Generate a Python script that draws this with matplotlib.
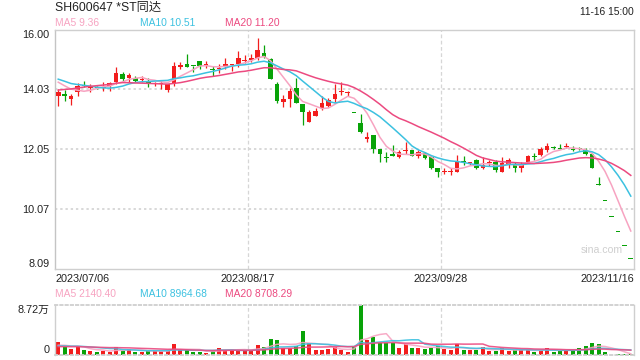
import matplotlib
matplotlib.use('Agg')
import matplotlib.pyplot as plt
import matplotlib.transforms as mtrans
import numpy as np
import pandas as pd

# ---------------- data ----------------
opens = [13.80, 13.86, 13.70, 13.93, 14.16, 14.08, 14.10, 14.08, 14.13, 14.26,
         14.53, 14.40, 14.40, 14.33, 14.26, 14.20, 14.20, 14.00, 14.20, 14.76,
         14.86, 14.80, 14.96, 14.80, 14.70, 14.70, 14.80, 14.83, 14.86, 14.96,
         15.00, 15.06, 15.23, 15.03, 14.20, 13.60, 13.70, 14.06, 13.53, 12.93,
         13.13, 13.40, 13.46, 13.70, 13.93, 13.90, 13.23, 12.91, 12.38, 12.51,
         12.04, 11.79, 11.88, 11.78, 11.98, 12.01, 11.81, 11.91, 11.78, 11.44,
         11.28, 11.28, 11.28, 11.64, 11.58, 11.68, 11.41, 11.58, 11.63, 11.28,
         11.51, 11.54, 11.44, 11.64, 11.81, 11.84, 12.01, 12.11, 12.08, 12.11,
         12.04, 12.08, 12.01, 11.88, 10.90, 10.33, 9.81, 9.32, 8.85, 8.41]
highs = [14.03, 14.00, 13.86, 14.23, 14.30, 14.20, 14.13, 14.26, 14.26, 14.76,
         14.60, 14.56, 14.46, 14.46, 14.40, 14.26, 14.30, 14.20, 14.93, 14.93,
         15.20, 14.80, 14.96, 14.96, 14.80, 14.86, 15.06, 14.86, 15.30, 15.16,
         15.20, 15.73, 15.50, 15.06, 14.26, 13.83, 14.06, 14.40, 13.53, 13.33,
         13.40, 13.80, 13.73, 14.20, 14.26, 13.96, 13.23, 13.20, 12.61, 12.51,
         12.04, 11.94, 12.18, 12.01, 12.28, 12.01, 12.01, 11.94, 11.81, 11.44,
         11.44, 11.41, 11.84, 11.81, 11.64, 11.71, 11.78, 11.68, 11.68, 11.78,
         11.74, 11.61, 11.61, 11.84, 11.91, 12.11, 12.24, 12.14, 12.21, 12.24,
         12.14, 12.11, 12.08, 11.91, 11.14, 10.33, 9.81, 9.32, 8.85, 8.41]
lows = [13.47, 13.63, 13.50, 13.80, 14.10, 13.93, 14.03, 13.96, 13.96, 14.20,
        14.30, 14.26, 14.26, 14.26, 14.10, 14.13, 14.03, 13.93, 14.13, 14.70,
        14.76, 14.60, 14.70, 14.73, 14.46, 14.56, 14.70, 14.63, 14.76, 14.90,
        14.93, 15.00, 15.06, 14.35, 13.56, 13.43, 13.43, 13.56, 12.86, 12.93,
        13.13, 13.33, 13.43, 13.56, 13.83, 13.80, 13.23, 12.58, 12.28, 11.91,
        11.64, 11.64, 11.81, 11.74, 11.88, 11.81, 11.74, 11.71, 11.38, 11.14,
        11.24, 11.21, 11.28, 11.54, 11.51, 11.38, 11.38, 11.48, 11.31, 11.28,
        11.44, 11.28, 11.28, 11.58, 11.68, 11.81, 11.94, 12.04, 12.04, 12.08,
        11.98, 12.01, 11.84, 11.44, 10.87, 10.33, 9.81, 9.32, 8.85, 8.41]
closes = [13.93, 13.80, 13.80, 14.13, 14.14, 14.10, 14.08, 14.11, 14.23, 14.56,
          14.36, 14.50, 14.30, 14.36, 14.23, 14.23, 14.23, 14.20, 14.80, 14.83,
          14.76, 14.78, 14.80, 14.86, 14.66, 14.73, 14.86, 14.86, 15.06, 15.00,
          15.06, 15.33, 15.10, 14.35, 13.63, 13.70, 13.96, 13.56, 13.26, 13.26,
          13.30, 13.56, 13.66, 13.86, 13.96, 13.93, 13.23, 12.61, 12.45, 12.04,
          11.88, 11.74, 11.81, 11.94, 12.01, 11.81, 11.94, 11.74, 11.44, 11.28,
          11.31, 11.31, 11.64, 11.61, 11.61, 11.44, 11.54, 11.61, 11.36, 11.58,
          11.68, 11.41, 11.54, 11.81, 11.78, 12.04, 12.14, 12.08, 12.05, 12.14,
          12.01, 12.04, 11.88, 11.44, 10.87, 10.33, 9.81, 9.32, 8.85, 8.41]
volumes = [23240, 14525, 10458, 14525, 8715, 6972, 5810, 6972, 5810, 14525,
           6972, 10458, 5810, 5810, 6972, 6972, 6972, 6972, 19173, 8715,
           8715, 5810, 5810, 4067, 6972, 12782, 8715, 8715, 8715, 8715,
           8715, 17430, 13363, 27307, 26145, 12782, 12782, 15687, 41832, 20335,
           8715, 8715, 10458, 14525, 8715, 5810, 13363, 87150, 26145, 31955,
           20335, 20335, 21497, 12782, 19173, 12782, 12782, 10458, 12782, 15687,
           10458, 8715, 19173, 8715, 8715, 8715, 14525, 6972, 6972, 12782,
           6972, 8715, 8715, 8715, 5810, 8715, 12782, 5810, 6972, 6972,
           8715, 12782, 15687, 21497, 19173, 4900, 581, 1743, 1743, 1743]
# closes / volumes of the trading days before the window (feed the moving averages)
prior_closes = [13.40, 13.45, 13.50, 13.55, 13.60, 13.65, 13.70, 13.75, 13.85, 13.95,
                14.50, 14.55, 14.45, 14.40, 14.40, 14.40, 14.35, 14.30, 14.32]
prior_volumes = [12000, 14000, 13000, 15000, 12500, 13500, 14000, 12000, 14500, 12500,
                 14000, 15000, 14500, 13500, 15000, 15000, 16000, 15500, 15260]

price_ticks = [8.09, 10.07, 12.05, 14.03, 16.00]
date_labels = ['2023/07/06', '2023/08/17', '2023/09/28', '2023/11/16']
date_label_idx = [0, 30, 60, 89]
title = 'SH600647 *ST同达'
time_text = '11-16 15:00'
price_ma_text = ['MA5 9.36', 'MA10 10.51', 'MA20 11.20']
vol_ma_text = ['MA5 2140.40', 'MA10 8964.68', 'MA20 8708.29']
vol_max_label = '8.72万'

# ---------------- style ----------------
UP = '#f21d1d'
DN = '#08a308'
MA_COLORS = ['#f7a3c1', '#3cc1e0', '#ec4a80']
GRID = '#d6d6d6'
SPINE = '#cfcfcf'
FONT = ['Liberation Sans', 'Noto Sans CJK SC', 'DejaVu Sans']
plt.rcParams['font.family'] = FONT

W, H = 640, 360
fig = plt.figure(figsize=(6.4, 3.6), dpi=100)

def px_ax(l, t, r, b):
    return fig.add_axes([l / W, 1 - b / H, (r - l) / W, (b - t) / H])

ax = px_ax(55, 29.5, 634, 269)
axv = px_ax(55, 305, 634, 355)

n = len(closes)
x = np.arange(n)
o = np.array(opens); h = np.array(highs); l = np.array(lows); c = np.array(closes)
prev = np.concatenate([[prior_closes[-1]], c[:-1]])
up = (c > o) | ((c == o) & (c >= prev))
cols = [UP if u else DN for u in up]

# moving averages
def ma(series, prior, k):
    s = pd.Series(list(prior) + list(series)).rolling(k).mean().values
    return s[len(prior):]

# ---- price panel ----
ax.vlines(x, l, h, colors=cols, linewidth=0.9, zorder=2)
body_bottom = np.minimum(o, c)
body_h = np.maximum(np.abs(c - o), 0.035)
ax.bar(x, body_h, bottom=body_bottom, width=0.72, color=cols, linewidth=0, zorder=3)
for k, col in zip([5, 10, 20], MA_COLORS):
    ax.plot(x, ma(closes, prior_closes, k), color=col, lw=1.1, zorder=4)

ax.set_xlim(-0.5, n - 0.5)
ax.set_ylim(price_ticks[0], price_ticks[-1])
for yv in price_ticks[1:-1]:
    ax.axhline(yv, color=GRID, lw=1.3, linestyle=(0, (1.3, 1.6)), zorder=1)
for xi in date_label_idx[1:3]:
    ax.axvline(xi - 0.5, color=GRID, lw=0.9, linestyle=(0, (3, 2)), zorder=1)
    axv.axvline(xi - 0.5, color=GRID, lw=0.9, linestyle=(0, (3, 2)), zorder=1)

ax.set_yticks(price_ticks)
ax.set_yticklabels([f'{v:.2f}' for v in price_ticks])
ax.tick_params(axis='y', length=0, pad=4, labelsize=7.8, labelcolor='#222222')
yl = ax.get_yticklabels()
yl[0].set_va('bottom')
yl[-1].set_va('top')
ax.set_xticks([])
for s in ax.spines.values():
    s.set_color(SPINE)
    s.set_linewidth(1.0)
ax.spines['left'].set_color('#c4c4c4')

# date labels
trans = mtrans.blended_transform_factory(ax.transData, ax.transAxes)
for i, (xi, lab) in enumerate(zip(date_label_idx, date_labels)):
    if i == 0:
        xp, ha = -0.5, 'left'
    elif i == len(date_labels) - 1:
        xp, ha = n - 0.5, 'right'
    else:
        xp, ha = xi - 0.5, 'center'
    ax.text(xp, -0.04, lab, transform=trans, ha=ha, va='center',
            fontsize=7.8, color='#222222')

ax.text(623 / W, 1 - 250 / H, 'sina.com', transform=fig.transFigure, ha='right',
        va='center', fontsize=7.6, color='#cfcfcf')

# ---- volume panel ----
v = np.array(volumes)
axv.bar(x, v, width=0.62, color=cols, linewidth=0, zorder=2)
for k, col in zip([5, 10, 20], MA_COLORS):
    axv.plot(x, ma(volumes, prior_volumes, k), color=col, lw=1.1, zorder=3, alpha=0.9)
axv.set_xlim(-0.5, n - 0.5)
axv.set_ylim(0, max(volumes))
axv.set_xticks([])
axv.set_yticks([0, max(volumes)])
axv.set_yticklabels(['0', vol_max_label])
axv.tick_params(axis='y', length=0, pad=4, labelsize=7.8, labelcolor='#222222')
vl = axv.get_yticklabels()
vl[0].set_va('bottom')
vl[1].set_va('top')
for sname, s in axv.spines.items():
    s.set_color(SPINE)
    s.set_linewidth(1.0)
axv.spines['top'].set_linestyle((0, (1.3, 1.6)))
axv.spines['top'].set_linewidth(1.3)
axv.spines['bottom'].set_linestyle((0, (1.3, 1.6)))
axv.spines['bottom'].set_linewidth(1.3)

# ---- texts ----
fig.text(55 / W, 1 - 8 / H, title, ha='left', va='center', fontsize=8.8, color='#222222')
fig.text(634 / W, 1 - 12 / H, time_text, ha='right', va='center', fontsize=7.4, color='#222222')
for xp, t, col in zip([55, 140, 225], price_ma_text, MA_COLORS):
    fig.text(xp / W, 1 - 23.5 / H, t, ha='left', va='center', fontsize=7.4, color=col)
for xp, t, col in zip([55, 140, 225], vol_ma_text, MA_COLORS):
    fig.text(xp / W, 1 - 294 / H, t, ha='left', va='center', fontsize=7.4, color=col)

fig.savefig('out.png', dpi=100)
